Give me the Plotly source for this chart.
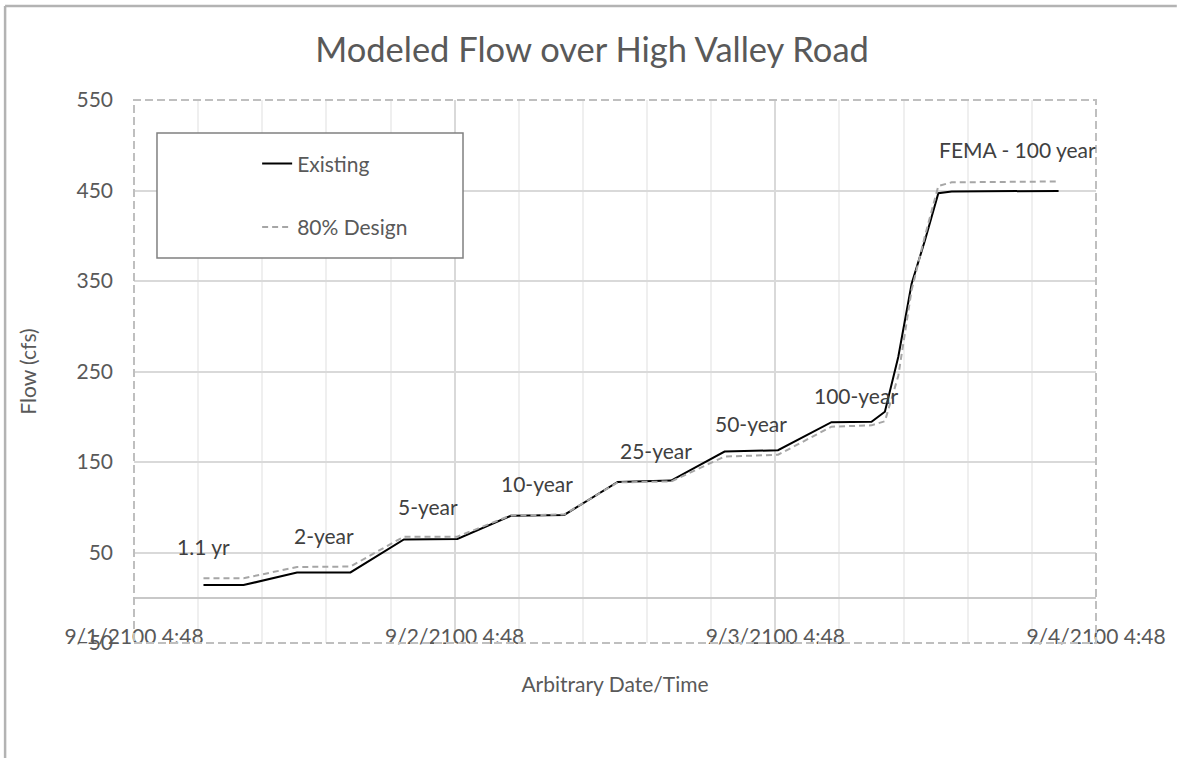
import plotly.graph_objects as go

# ---------------- data ----------------
existing_times = [
    "2100-09-01 10:00", "2100-09-01 13:00", "2100-09-01 17:00", "2100-09-01 21:00",
    "2100-09-02 01:00", "2100-09-02 05:00", "2100-09-02 09:00", "2100-09-02 13:00",
    "2100-09-02 17:00", "2100-09-02 21:00", "2100-09-03 01:00", "2100-09-03 05:00",
    "2100-09-03 09:00", "2100-09-03 12:00", "2100-09-03 13:00", "2100-09-03 14:00",
    "2100-09-03 15:00", "2100-09-03 16:00", "2100-09-03 17:00", "2100-09-03 18:00",
    "2100-09-04 02:00",
]
existing_flow = [14, 14, 28, 28, 64.5, 65, 90.5, 91.5, 128, 129.5, 161.5, 163,
                 194, 194.5, 205.5, 266, 347, 395, 447, 449, 449.5]

design_times = list(existing_times)
design_flow = [21.5, 21.5, 34, 34.5, 67.5, 67.5, 91, 92, 127.5, 128.5, 156, 158,
               189, 190.5, 195, 245, 340, 400, 455, 459, 460]

series_names = ["Existing", "80% Design"]

event_labels = ["1.1 yr", "2-year", "5-year", "10-year", "25-year", "50-year",
                "100-year", "FEMA - 100 year"]

x_range = ["2100-09-01 04:48", "2100-09-04 04:48"]
y_range = [-50, 550]

# ---------------- layout helpers (positions / styles) ----------------
label_times = ["2100-09-01 10:00", "2100-09-01 19:00", "2100-09-02 02:48",
               "2100-09-02 10:56", "2100-09-02 19:54", "2100-09-03 02:57",
               "2100-09-03 10:52", "2100-09-03 22:54"]
label_flows = [57, 69, 101, 126, 163, 193, 224, 495]

FONT = "Lato"
TXT = "#595959"

fig = go.Figure()
fig.add_trace(go.Scatter(
    x=existing_times, y=existing_flow, mode="lines", name=series_names[0],
    legendgroup="a", line=dict(color="#000000", width=2),
))
fig.add_trace(go.Scatter(
    x=design_times, y=design_flow, mode="lines", name=series_names[1],
    legendgroup="b", line=dict(color="#a6a6a6", width=2, dash="6px,4px"),
))

for txt, t, v in zip(event_labels, label_times, label_flows):
    fig.add_annotation(x=t, y=v, text=txt, showarrow=False, xref="x", yref="y",
                       font=dict(family=FONT, size=21, color="#404040"))

shapes = [
    # plot-area dashed border
    dict(type="rect", xref="paper", yref="paper", x0=0, x1=1, y0=0, y1=1,
         line=dict(color="#bfbfbf", width=2, dash="8px,4px"), layer="above"),
    # legend box
    dict(type="rect", xref="paper", yref="paper", x0=0.0239, x1=0.342, y0=0.709, y1=0.939,
         line=dict(color="#808080", width=1.5), fillcolor="white", layer="above"),
    # outer chart border (left & top)
    dict(type="line", xref="paper", yref="paper", x0=-0.134, x1=-0.134, y0=-0.22, y1=1.173,
         line=dict(color="#b3b3b3", width=2.5)),
    dict(type="line", xref="paper", yref="paper", x0=-0.134, x1=1.084, y0=1.173, y1=1.173,
         line=dict(color="#b3b3b3", width=2.5)),
]

fig.update_layout(
    width=1177, height=758, autosize=False,
    margin=dict(l=134, r=81, t=100, b=115),
    paper_bgcolor="white", plot_bgcolor="white",
    font=dict(family=FONT, size=21, color=TXT),
    title=dict(text="Modeled Flow over High Valley Road", x=0.503, xref="container",
               xanchor="center", y=0.934, yanchor="middle",
               font=dict(family=FONT, size=34.5, color=TXT)),
    shapes=shapes,
    showlegend=True,
    legend=dict(x=0.128, y=0.92, xanchor="left", yanchor="top",
                bgcolor="rgba(0,0,0,0)", borderwidth=0, tracegroupgap=33,
                font=dict(family=FONT, size=21, color=TXT)),
    xaxis=dict(
        type="date", range=x_range, tick0=x_range[0], dtick=86400000,
        tickformat="%-m/%-d/%Y %-H:%M", ticks="", showline=False,
        showgrid=True, gridcolor="#d9d9d9", gridwidth=1.5,
        minor=dict(dtick=17280000, tick0=x_range[0], showgrid=True,
                   gridcolor="#efefef", gridwidth=1.5),
        ticklabelstandoff=-21,
        title=dict(text="Arbitrary Date/Time", standoff=30,
                   font=dict(family=FONT, size=21, color=TXT)),
        zeroline=False, automargin=False,
    ),
    yaxis=dict(
        range=y_range, tick0=-50, dtick=100, ticks="", showline=False,
        showgrid=True, gridcolor="#d9d9d9", gridwidth=1.5,
        zeroline=True, zerolinecolor="#c8c8c8", zerolinewidth=2,
        ticklabelstandoff=20,
        title=dict(text="Flow (cfs)", standoff=34,
                   font=dict(family=FONT, size=21, color=TXT)),
        automargin=False,
    ),
)

fig.write_html("out.html", config={"displayModeBar": False},
               post_script="document.body.style.margin='0';document.body.style.overflow='hidden';")
